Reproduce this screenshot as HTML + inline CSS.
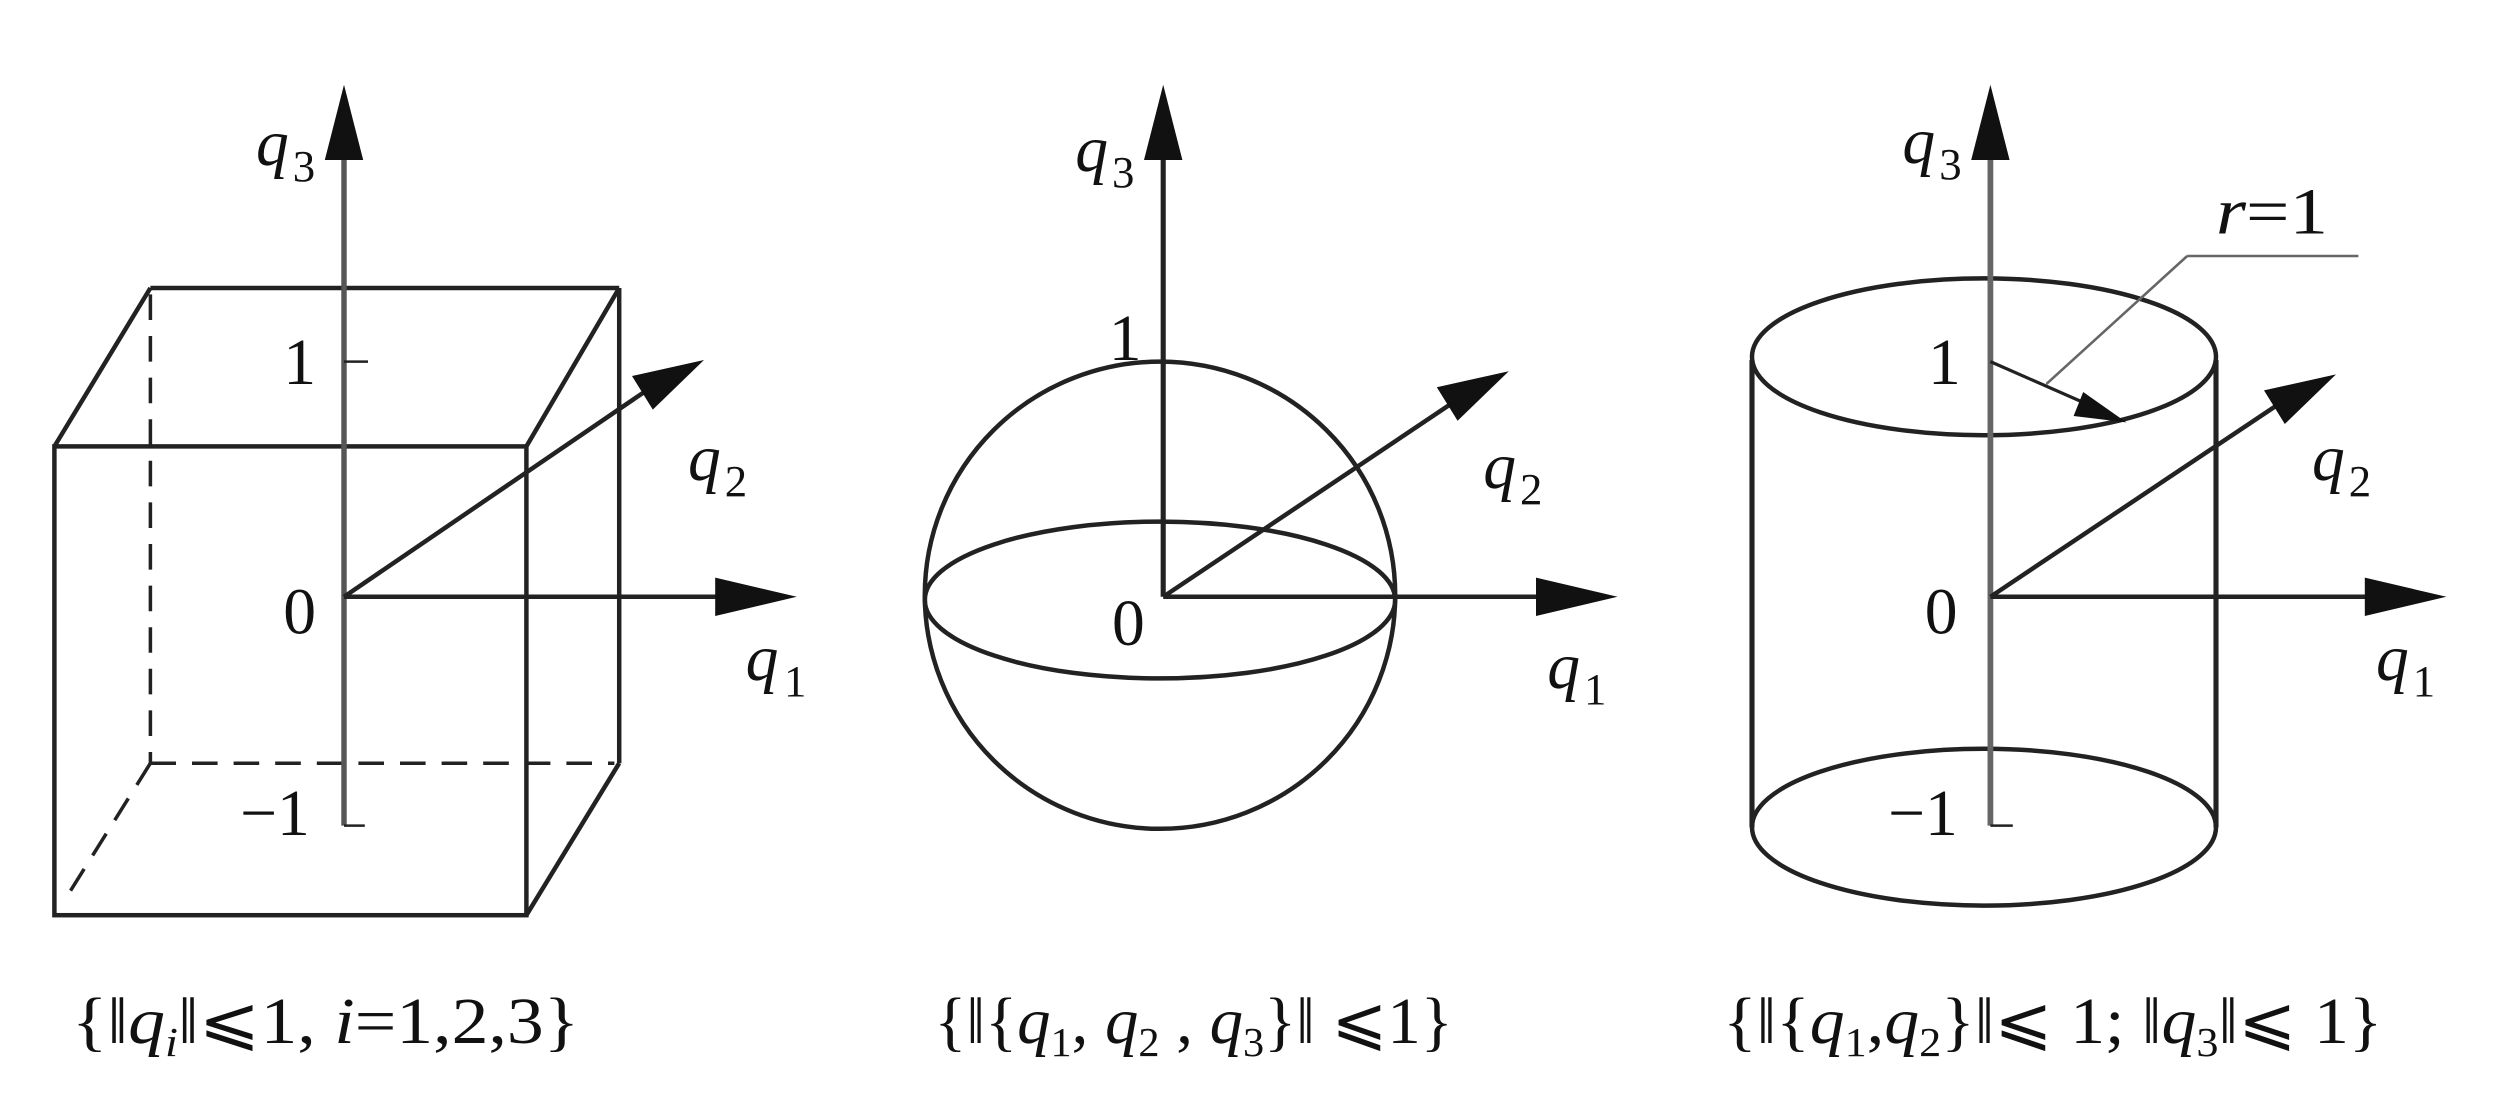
<!DOCTYPE html>
<html><head><meta charset="utf-8"><style>
html,body{margin:0;padding:0;background:#fff;}
svg{display:block;}
text{font-family:"Liberation Serif",serif;fill:#111;}
.q{font-style:italic;}
</style></head><body>
<svg width="2498" height="1108" viewBox="0 0 1561.25 692.5" xmlns="http://www.w3.org/2000/svg">
<g stroke="#222" stroke-width="2.8" fill="none">
<!-- Panel 1: cube -->
<rect x="34" y="279" width="295" height="293"/>
<line x1="94" y1="180" x2="387" y2="180"/>
<line x1="387" y1="180" x2="387" y2="477"/>
<line x1="34" y1="279" x2="94" y2="180"/>
<line x1="329" y1="279" x2="387" y2="180"/>
<line x1="329" y1="572" x2="387" y2="477"/>
<g stroke-dasharray="16,10" stroke-width="2.2">
<line x1="94" y1="184" x2="94" y2="477"/>
<line x1="94" y1="477" x2="384" y2="477"/>
<line x1="94" y1="477" x2="42" y2="560"/>
</g>
<line x1="215" y1="100" x2="215" y2="516" stroke="#555" stroke-width="3.4"/>
<line x1="215" y1="516" x2="228" y2="516" stroke-width="1.6"/>
<line x1="215" y1="226" x2="230" y2="226" stroke-width="1.6"/>
<line x1="215" y1="373" x2="455" y2="373"/>
<line x1="215" y1="373" x2="410" y2="240"/>
<!-- Panel 2: sphere -->
<ellipse cx="725" cy="372" rx="147" ry="146"/>
<ellipse cx="725" cy="375" rx="147" ry="49"/>
<line x1="727" y1="100" x2="727" y2="373" stroke-width="3.2"/>
<line x1="727" y1="373" x2="968" y2="373"/>
<line x1="727" y1="373" x2="912" y2="249"/>
<!-- Panel 3: cylinder -->
<ellipse cx="1240" cy="223" rx="145" ry="49"/>
<path d="M1095 517 A145 49 0 0 1 1385 517 A145 49 0 0 1 1095 517"/>
<line x1="1095" y1="225" x2="1095" y2="517" stroke-width="3.2"/>
<line x1="1385" y1="225" x2="1385" y2="517" stroke-width="3.2"/>
<line x1="1244" y1="100" x2="1244" y2="516" stroke="#666" stroke-width="3.6"/>
<line x1="1244" y1="516" x2="1258" y2="516" stroke-width="1.6"/>
<line x1="1244" y1="226" x2="1310" y2="255" stroke-width="2"/>
<line x1="1279" y1="240" x2="1367" y2="160" stroke="#666" stroke-width="1.6"/>
<line x1="1367" y1="160" x2="1474" y2="160" stroke="#666" stroke-width="1.6"/>
<line x1="1244" y1="373" x2="1485" y2="373"/>
<line x1="1244" y1="373" x2="1428" y2="250"/>
</g>
<g fill="#111">
<polygon points="215,53 203,100 227,100"/>
<polygon points="498,373 447,361 447,385"/>
<polygon points="440,225 395,235 408,256"/>
<polygon points="727,53 715,100 739,100"/>
<polygon points="1011,373 960,361 960,385"/>
<polygon points="943,232 898,242 911,263"/>
<polygon points="1244,53 1232,100 1256,100"/>
<polygon points="1529,373 1478,361 1478,385"/>
<polygon points="1460,234 1415,244 1428,265"/>
<polygon points="1329,264 1302,245 1296,260"/>
</g>
<g font-size="41">
<text x="160" y="103" class="q">q</text><text x="183" y="113" font-size="28">3</text>
<text x="177" y="240">1</text>
<text x="177" y="396">0</text>
<text x="150" y="522">−1</text>
<text x="430" y="300" class="q">q</text><text x="453" y="310" font-size="28">2</text>
<text x="466" y="425" class="q">q</text><text x="490" y="435" font-size="28">1</text>
<text x="45" y="652" textLength="317" lengthAdjust="spacingAndGlyphs">{‖<tspan class="q">q</tspan><tspan class="q" font-size="26" dy="8">i</tspan><tspan dy="-8">‖⩽1, </tspan><tspan class="q">i</tspan>=1,2,3}</text>
<text x="672" y="107" class="q">q</text><text x="695" y="117" font-size="28">3</text>
<text x="693" y="225">1</text>
<text x="695" y="403">0</text>
<text x="927" y="305" class="q">q</text><text x="950" y="315" font-size="28">2</text>
<text x="967" y="430" class="q">q</text><text x="990" y="440" font-size="28">1</text>
<text x="584" y="652" textLength="324" lengthAdjust="spacingAndGlyphs">{‖{<tspan class="q">q</tspan><tspan font-size="26" dy="8">1</tspan><tspan dy="-8">, </tspan><tspan class="q">q</tspan><tspan font-size="26" dy="8">2</tspan><tspan dy="-8"> , </tspan><tspan class="q">q</tspan><tspan font-size="26" dy="8">3</tspan><tspan dy="-8">}‖ ⩽1}</tspan></text>
<text x="1189" y="102" class="q">q</text><text x="1212" y="112" font-size="28">3</text>
<text x="1205" y="240">1</text>
<text x="1203" y="396">0</text>
<text x="1180" y="522">−1</text>
<text x="1385" y="146" textLength="70" lengthAdjust="spacingAndGlyphs"><tspan class="q">r</tspan>=1</text>
<text x="1445" y="300" class="q">q</text><text x="1468" y="310" font-size="28">2</text>
<text x="1485" y="425" class="q">q</text><text x="1508" y="435" font-size="28">1</text>
<text x="1077" y="652" textLength="412" lengthAdjust="spacingAndGlyphs">{‖{<tspan class="q">q</tspan><tspan font-size="26" dy="8">1</tspan><tspan dy="-8">,</tspan><tspan class="q">q</tspan><tspan font-size="26" dy="8">2</tspan><tspan dy="-8">}‖⩽ 1; ‖</tspan><tspan class="q">q</tspan><tspan font-size="26" dy="8">3</tspan><tspan dy="-8">‖⩽ 1}</tspan></text>
</g>
</svg>
</body></html>
